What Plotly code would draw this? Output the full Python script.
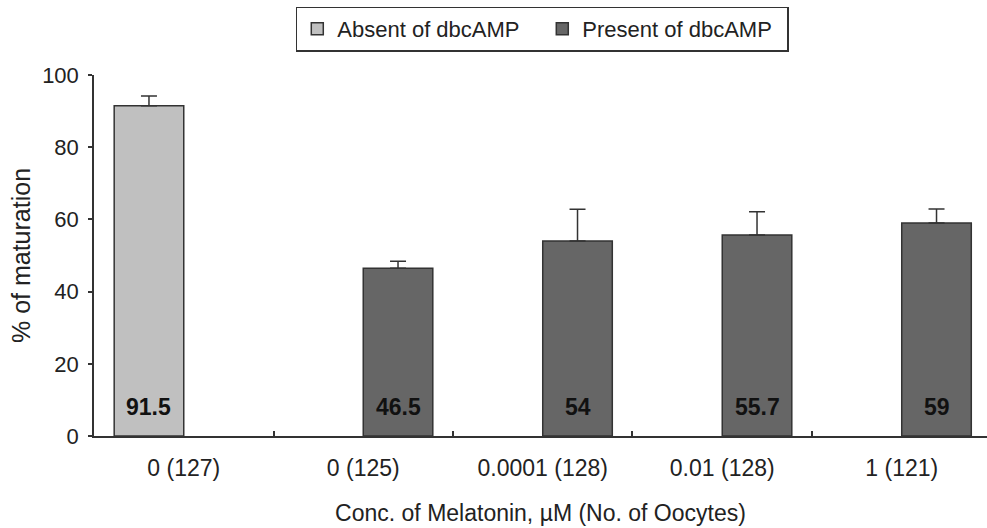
import plotly.graph_objects as go

categories = ["0 (127)", "0 (125)", "0.0001 (128)", "0.01 (128)", "1 (121)"]
absent_vals = [91.5, None, None, None, None]
absent_err = [2.7, None, None, None, None]
present_vals = [None, 46.5, 54, 55.7, 59]
present_err = [None, 1.9, 8.8, 6.4, 3.9]
absent_labels = ["91.5", "", "", "", ""]
present_labels = ["", "46.5", "54", "55.7", "59"]
y_ticks = [0, 20, 40, 60, 80, 100]

FONT = "Liberation Sans, Arial, sans-serif"
DARK = "#333333"
TXT = "#222222"
W, H = 987, 528
ML, MR, MT, MB = 94, 0, 75, 92
BARGAP = 0.225
XRANGE = [-0.5, 4.475]

fig = go.Figure()
fig.add_trace(go.Bar(
    name="Absent of dbcAMP", x=categories, y=absent_vals,
    marker=dict(color="#c0c0c0", line=dict(color=DARK, width=1.5)),
    error_y=dict(type="data", symmetric=False, array=absent_err,
                 arrayminus=[0 if v is not None else None for v in absent_err],
                 color=DARK, thickness=1.5, width=8),
))
fig.add_trace(go.Bar(
    name="Present of dbcAMP", x=categories, y=present_vals,
    marker=dict(color="#666666", line=dict(color=DARK, width=1.5)),
    error_y=dict(type="data", symmetric=False, array=present_err,
                 arrayminus=[0 if v is not None else None for v in present_err],
                 color=DARK, thickness=1.5, width=8),
))

# value labels near the base of each bar
cat_px = (W - ML - MR) / (XRANGE[1] - XRANGE[0])
half_bar = (1 - BARGAP) * cat_px / 4
for cat, lab in zip(categories, absent_labels):
    if lab:
        fig.add_annotation(x=cat, y=0, text=f"<b>{lab}</b>", showarrow=False,
                           xshift=-half_bar, yshift=29, yanchor="middle",
                           font=dict(family=FONT, size=23, color="#111111"))
for cat, lab in zip(categories, present_labels):
    if lab:
        fig.add_annotation(x=cat, y=0, text=f"<b>{lab}</b>", showarrow=False,
                           xshift=half_bar, yshift=29, yanchor="middle",
                           font=dict(family=FONT, size=23, color="#111111"))

plot_h = H - MT - MB
fig.update_layout(
    width=W, height=H,
    margin=dict(l=ML, r=MR, t=MT, b=MB),
    barmode="group", bargap=BARGAP, bargroupgap=0,
    plot_bgcolor="white", paper_bgcolor="white",
    font=dict(family=FONT, size=22, color=TXT),
    showlegend=True,
    legend=dict(orientation="h", x=0.502, xanchor="center",
                y=1 + (MT - 29) / plot_h, yanchor="middle",
                bgcolor="white", bordercolor=DARK, borderwidth=1.5,
                font=dict(family=FONT, size=22, color=TXT),
                entrywidth=200, traceorder="normal"),
    xaxis=dict(
        type="category", range=XRANGE, showline=True, linecolor=DARK, linewidth=1.5,
        ticks="inside", ticklen=5, tickcolor=DARK, tickwidth=1.5, tickson="boundaries",
        showgrid=False, zeroline=False, ticklabelstandoff=11,
        tickfont=dict(family=FONT, size=23, color=TXT),
        title=dict(text="Conc. of Melatonin, µM (No. of Oocytes)", standoff=25,
                   font=dict(family=FONT, size=23, color=TXT)),
    ),
    yaxis=dict(
        range=[0, 100], tickvals=y_ticks, showline=True, linecolor=DARK, linewidth=1.5,
        ticks="outside", ticklen=4, tickcolor=DARK, tickwidth=1.5,
        showgrid=False, zeroline=False, ticklabelstandoff=5,
        tickfont=dict(family=FONT, size=22, color=TXT),
        title=dict(text="% of maturation", standoff=4,
                   font=dict(family=FONT, size=25, color=TXT)),
    ),
)

fig.write_html("out.html", config={"displayModeBar": False},
               post_script="document.body.style.margin='0';document.body.style.padding='0';")
